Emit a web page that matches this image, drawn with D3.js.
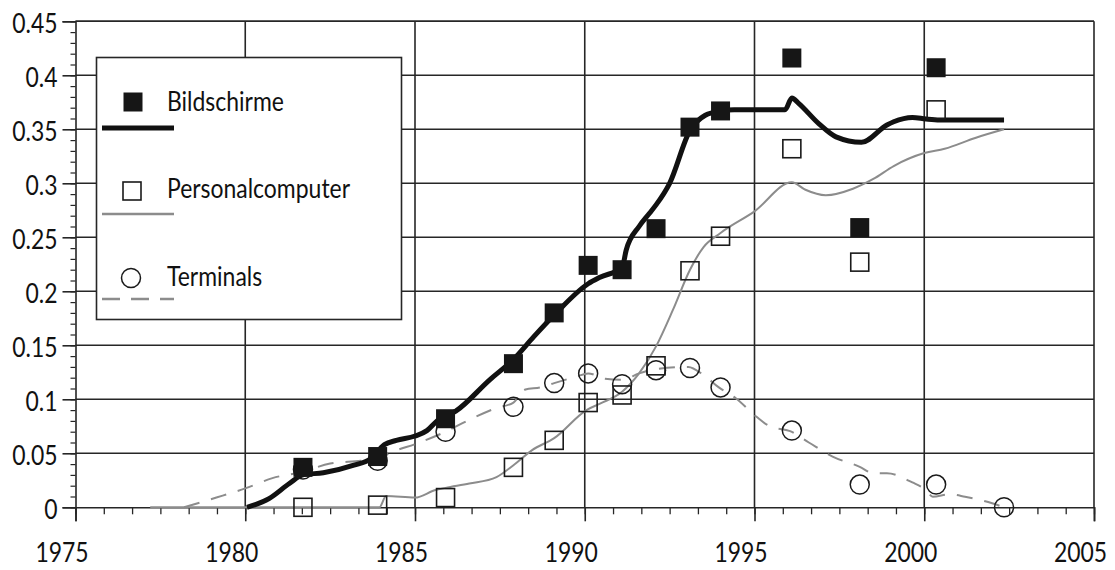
<!DOCTYPE html>
<html>
<head>
<meta charset="utf-8">
<script src="https://cdn.jsdelivr.net/npm/d3@7/dist/d3.min.js"></script>
<style>
  html, body { margin: 0; padding: 0; background: #fff; }
  svg { display: block; }
  text { font-family: Lato, "Open Sans", sans-serif; fill: #111; }
</style>
</head>
<body>
<svg id="chart" width="1115" height="570"></svg>
<script>
// ---- data ----
const seriesNames = ["Bildschirme", "Personalcomputer", "Terminals"];
const xTicks = [1975, 1980, 1985, 1990, 1995, 2000, 2005];
const yTicks = [0, 0.05, 0.1, 0.15, 0.2, 0.25, 0.3, 0.35, 0.4, 0.45];
const yTickLabels = ["0", "0.05", "0.1", "0.15", "0.2", "0.25", "0.3", "0.35", "0.4", "0.45"];

// observed points
const markYears = [1981.7, 1983.9, 1985.9, 1987.9, 1989.1, 1990.1, 1991.1, 1992.1, 1993.1, 1994.0, 1996.1, 1998.1, 2000.35];
const bildMarks = [0.037, 0.047, 0.082, 0.133, 0.180, 0.224, 0.220, 0.258, 0.352, 0.367, 0.416, 0.259, 0.407];
const pcMarks   = [0.000, 0.002, 0.009, 0.037, 0.062, 0.097, 0.104, 0.131, 0.219, 0.251, 0.332, 0.227, 0.368];
const termYears = [1981.7, 1983.9, 1985.9, 1987.9, 1989.1, 1990.1, 1991.1, 1992.1, 1993.1, 1994.0, 1996.1, 1998.1, 2000.35, 2002.35];
const termMarks = [0.035, 0.043, 0.070, 0.093, 0.115, 0.124, 0.114, 0.127, 0.129, 0.111, 0.071, 0.021, 0.021, 0.000];

// smoothed curves
const bildLineYears = [1980.05, 1980.7, 1981.3, 1981.7, 1982.3, 1983.2, 1983.7, 1984.1, 1984.45, 1985.0, 1985.35, 1985.65, 1986.2, 1987.2, 1987.9, 1988.5, 1989.1, 1990.1, 1990.45, 1991.1, 1991.22, 1991.6, 1991.9, 1992.1, 1992.5, 1993.1, 1993.55, 1994.0, 1994.4, 1995.9, 1996.1, 1996.3, 1996.9, 1997.4, 1998.15, 1998.9, 1999.1, 1999.65, 2000.05, 2000.45, 2002.35];
const bildLineVals  = [0.000, 0.008, 0.022, 0.030, 0.032, 0.039, 0.045, 0.058, 0.062, 0.066, 0.071, 0.080, 0.089, 0.118, 0.137, 0.158, 0.178, 0.207, 0.213, 0.222, 0.238, 0.260, 0.272, 0.280, 0.300, 0.349, 0.363, 0.367, 0.368, 0.368, 0.379, 0.374, 0.355, 0.343, 0.338, 0.354, 0.357, 0.361, 0.3595, 0.3586, 0.3586];

const pcLineYears = [1977.2, 1983.95, 1984.15, 1985.0, 1985.6, 1985.9, 1986.6, 1987.4, 1987.9, 1988.45, 1989.1, 1990.05, 1990.45, 1991.1, 1991.6, 1992.1, 1992.6, 1993.1, 1993.5, 1994.0, 1995.0, 1996.1, 1996.5, 1997.1, 1997.9, 1998.5, 1999.1, 2000.0, 2000.6, 2001.5, 2002.35];
const pcLineVals  = [0.000, 0.000, 0.0105, 0.009, 0.016, 0.018, 0.022, 0.028, 0.039, 0.053, 0.064, 0.090, 0.096, 0.107, 0.124, 0.149, 0.183, 0.220, 0.241, 0.254, 0.274, 0.301, 0.294, 0.289, 0.295, 0.304, 0.316, 0.328, 0.332, 0.342, 0.350];

const termLineYears = [1978.2, 1979.15, 1980.0, 1980.8, 1981.7, 1982.5, 1983.4, 1983.9, 1984.35, 1985.05, 1985.9, 1986.6, 1987.4, 1987.9, 1988.25, 1988.7, 1989.1, 1989.75, 1990.1, 1990.6, 1991.1, 1991.6, 1992.1, 1993.05, 1993.5, 1993.95, 1994.45, 1995.05, 1995.45, 1996.05, 1996.6, 1997.3, 1998.1, 1998.5, 1998.9, 1999.65, 2000.05, 2000.25, 2000.75, 2001.2, 2002.0, 2002.35];
const termLineVals  = [0.000, 0.009, 0.0175, 0.027, 0.033, 0.0405, 0.043, 0.045, 0.0515, 0.059, 0.070, 0.081, 0.092, 0.097, 0.109, 0.111, 0.115, 0.121, 0.124, 0.119, 0.118, 0.124, 0.128, 0.130, 0.1225, 0.111, 0.101, 0.084, 0.075, 0.0705, 0.060, 0.047, 0.0375, 0.0315, 0.0315, 0.023, 0.016, 0.0098, 0.012, 0.0098, 0.0037, 0.000];

// ---- layout ----
const svg = d3.select("#chart");
const x = d3.scaleLinear().domain([1975, 2005]).range([75.5, 1094]);
const y = d3.scaleLinear().domain([0, 0.45]).range([507.3, 21.3]);
const gridColor = "#262626";
const FS = 27, SQ = 0.85;
const FONT = 'Lato, "Open Sans", sans-serif';

// grid
svg.append("g").selectAll("line").data(yTicks.slice(1)).join("line")
  .attr("x1", x(1975)).attr("x2", x(2005))
  .attr("y1", d => y(d)).attr("y2", d => y(d))
  .attr("stroke", gridColor).attr("stroke-width", 1.6);
svg.append("g").selectAll("line").data(xTicks.slice(1)).join("line")
  .attr("x1", d => x(d)).attr("x2", d => x(d))
  .attr("y1", y(0)).attr("y2", y(0.45))
  .attr("stroke", gridColor).attr("stroke-width", 1.6);

// x axis (ticks below, minor ticks every 5/6 year)
const xMinor = d3.range(0, 37).map(i => 1975 + i * 5 / 6);
const xAxis = d3.axisBottom(x).tickValues(xTicks).tickSize(14).tickFormat(d3.format("d")).tickPadding(22);
const gx = svg.append("g").attr("transform", `translate(0,${y(0)})`).call(xAxis);
gx.select(".domain").attr("stroke", gridColor).attr("stroke-width", 1.6);
gx.selectAll(".tick line").attr("stroke", gridColor).attr("stroke-width", 1.6);
gx.selectAll(".tick text").attr("font-size", FS).attr("x", -14 / SQ)
  .attr("transform", `scale(${SQ},1)`)
  .style("font-family", FONT).attr("fill", "#111");
svg.append("g").attr("transform", `translate(0,${y(0)})`)
  .call(d3.axisBottom(x).tickValues(xMinor).tickSize(7).tickFormat(""))
  .call(g => { g.select(".domain").remove(); g.selectAll("line").attr("stroke", gridColor).attr("stroke-width", 1.3); });

// y axis
const yMinor = d3.range(0, 46).map(i => i * 0.01);
const yAxis = d3.axisLeft(y).tickValues(yTicks).tickSize(13).tickFormat((d, i) => yTickLabels[i]).tickPadding(5);
const gy = svg.append("g").attr("transform", `translate(${x(1975)},0)`).call(yAxis);
gy.select(".domain").attr("stroke", gridColor).attr("stroke-width", 1.6);
gy.selectAll(".tick line").attr("stroke", gridColor).attr("stroke-width", 1.6);
gy.selectAll(".tick text").attr("font-size", FS).attr("dy", "0.42em").attr("x", -18 / SQ)
  .attr("transform", `scale(${SQ},1)`)
  .style("font-family", FONT).attr("fill", "#111");
svg.append("g").attr("transform", `translate(${x(1975)},0)`)
  .call(d3.axisLeft(y).tickValues(yMinor).tickSize(5).tickFormat(""))
  .call(g => { g.select(".domain").remove(); g.selectAll("line").attr("stroke", gridColor).attr("stroke-width", 1.2); });

// frame top
svg.append("line").attr("x1", x(1975)).attr("x2", x(2005)).attr("y1", y(0.45)).attr("y2", y(0.45))
  .attr("stroke", gridColor).attr("stroke-width", 1.6);

// lines
const line = d3.line().x(d => x(d[0])).y(d => y(d[1])).curve(d3.curveMonotoneX);
const zip = (a, b) => a.map((v, i) => [v, b[i]]);

svg.append("path").datum(zip(pcLineYears, pcLineVals)).attr("d", line)
  .attr("fill", "none").attr("stroke", "#8c8c8c").attr("stroke-width", 2);
svg.append("path").datum(zip(termLineYears, termLineVals)).attr("d", line)
  .attr("fill", "none").attr("stroke", "#8c8c8c").attr("stroke-width", 2)
  .attr("stroke-dasharray", "16,12");
svg.append("path").datum(zip(bildLineYears, bildLineVals)).attr("d", line)
  .attr("fill", "none").attr("stroke", "#111").attr("stroke-width", 5)
  .attr("stroke-linejoin", "round");

// markers
svg.append("g").selectAll("circle").data(zip(termYears, termMarks)).join("circle")
  .attr("cx", d => x(d[0])).attr("cy", d => y(d[1])).attr("r", 9.5)
  .attr("fill", "none").attr("stroke", "#1a1a1a").attr("stroke-width", 1.5);
svg.append("g").selectAll("rect").data(zip(markYears, pcMarks)).join("rect")
  .attr("x", d => x(d[0]) - 9).attr("y", d => y(d[1]) - 9).attr("width", 18).attr("height", 18)
  .attr("fill", "none").attr("stroke", "#1a1a1a").attr("stroke-width", 1.6);
svg.append("g").selectAll("rect").data(zip(markYears, bildMarks)).join("rect")
  .attr("x", d => x(d[0]) - 9.5).attr("y", d => y(d[1]) - 9.5).attr("width", 19).attr("height", 19)
  .attr("fill", "#161616");

// legend
const lg = svg.append("g");
lg.append("rect").attr("x", 96.5).attr("y", 57.5).attr("width", 305).attr("height", 262)
  .attr("fill", "#fff").attr("stroke", gridColor).attr("stroke-width", 1.6);
const legendRows = [
  { name: seriesNames[0], cy: 102, ly: 128, ty: 111 },
  { name: seriesNames[1], cy: 191, ly: 214, ty: 198 },
  { name: seriesNames[2], cy: 278, ly: 299, ty: 286 }
];
lg.append("rect").attr("x", 123.5).attr("y", legendRows[0].cy - 9.5).attr("width", 19).attr("height", 19).attr("fill", "#161616");
lg.append("rect").attr("x", 123).attr("y", legendRows[1].cy - 9).attr("width", 18).attr("height", 18)
  .attr("fill", "none").attr("stroke", "#1a1a1a").attr("stroke-width", 1.6);
lg.append("circle").attr("cx", 131).attr("cy", legendRows[2].cy).attr("r", 9.5)
  .attr("fill", "none").attr("stroke", "#1a1a1a").attr("stroke-width", 1.5);
lg.append("line").attr("x1", 102).attr("x2", 174).attr("y1", legendRows[0].ly).attr("y2", legendRows[0].ly)
  .attr("stroke", "#111").attr("stroke-width", 5);
lg.append("line").attr("x1", 102).attr("x2", 174).attr("y1", legendRows[1].ly).attr("y2", legendRows[1].ly)
  .attr("stroke", "#8c8c8c").attr("stroke-width", 2.5);
lg.append("line").attr("x1", 102).attr("x2", 174).attr("y1", legendRows[2].ly).attr("y2", legendRows[2].ly)
  .attr("stroke", "#8c8c8c").attr("stroke-width", 2.5).attr("stroke-dasharray", "18,11");
lg.selectAll("text.lbl").data(legendRows).join("text").attr("class", "lbl")
  .attr("transform", d => `translate(167,${d.ty}) scale(${SQ},1)`)
  .attr("font-size", FS).text(d => d.name);
</script>
</body>
</html>
